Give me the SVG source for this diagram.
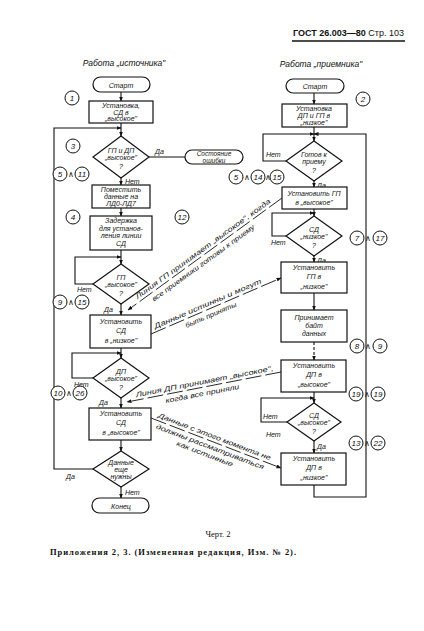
<svg xmlns="http://www.w3.org/2000/svg" width="424" height="631" viewBox="0 0 424 631">
<style>
.bg{fill:#fff}
.n{fill:#fff;stroke:#111;stroke-width:1.2}
.c{fill:none;stroke:#111;stroke-width:1.1}
.d{fill:none;stroke:#111;stroke-width:0.9;stroke-dasharray:16 4}
.t{font-family:"Liberation Sans",Arial,sans-serif;font-style:italic;font-size:7px;fill:#111;text-anchor:middle}
.l{font-family:"Liberation Sans",Arial,sans-serif;font-style:italic;font-size:7px;fill:#111}
.k{fill:#fff;stroke:#111;stroke-width:1}
.kt{font-family:"Liberation Sans",Arial,sans-serif;font-style:italic;font-size:8px;fill:#111;text-anchor:middle}
.and{font-family:"DejaVu Sans",sans-serif;font-size:8px;fill:#111;text-anchor:middle}
</style>
<defs>
<marker id="a" viewBox="0 0 10 10" refX="9" refY="5" markerWidth="5" markerHeight="5" orient="auto" markerUnits="userSpaceOnUse"><path d="M0,1 L10,5 L0,9 z" fill="#111"/></marker>
</defs>
<rect class="bg" x="0" y="0" width="424" height="631"/>

<g id="header">
<text x="404" y="36" font-family="Liberation Sans,Arial,sans-serif" font-size="9" fill="#111" text-anchor="end"><tspan font-weight="bold">ГОСТ 26.003—80</tspan> Стр. 103</text>
<line x1="292" y1="41" x2="405" y2="41" stroke="#111" stroke-width="1.4"/>
<text class="t" x="124" y="66" style="font-size:8.5px">Работа „источника"</text>
<text class="t" x="321" y="67" style="font-size:8.5px">Работа „приемника"</text>
</g>

<g id="connectors">
<path class="c" d="M121,92 V101" marker-end="url(#a)"/>
<path class="c" d="M121,123 V136" marker-end="url(#a)"/>
<path class="c" d="M93,469 H54 V128 H121" marker-end="url(#a)"/>
<path class="c" d="M149,157 H185"/>
<path class="c" d="M121,178 V185" marker-end="url(#a)"/>
<path class="c" d="M121,208 V216" marker-end="url(#a)"/>
<path class="c" d="M121,250 V264" marker-end="url(#a)"/>
<path class="c" d="M93,284 H75 V257 H121" marker-end="url(#a)"/>
<path class="c" d="M121,304 V315" marker-end="url(#a)"/>
<path class="c" d="M121,348 V358" marker-end="url(#a)"/>
<path class="c" d="M93,378 H72 V353 H121" marker-end="url(#a)"/>
<path class="c" d="M121,398 V408" marker-end="url(#a)"/>
<path class="c" d="M121,440 V451" marker-end="url(#a)"/>
<path class="c" d="M121,487 V498" marker-end="url(#a)"/>

<path class="c" d="M314,93 V104" marker-end="url(#a)"/>
<path class="c" d="M314,127 V141" marker-end="url(#a)"/>
<path class="c" d="M286,161 H263 V134 H314" marker-end="url(#a)"/>
<path class="c" d="M314,485 V497 H366 V134 H314" marker-end="url(#a)"/>
<path class="c" d="M314,181 V187" marker-end="url(#a)"/>
<path class="c" d="M314,209 V216" marker-end="url(#a)"/>
<path class="c" d="M286,236 H272 V213 H314" marker-end="url(#a)"/>
<path class="c" d="M314,256 V262" marker-end="url(#a)"/>
<path class="c" d="M314,293 V310" marker-end="url(#a)"/>
<path class="c" d="M314,342 V360" stroke-dasharray="3 2" marker-end="url(#a)"/>
<path class="c" d="M314,392 V403" marker-end="url(#a)"/>
<path class="c" d="M287,422 H261 V398 H314" marker-end="url(#a)"/>
<path class="c" d="M314,441 V453" marker-end="url(#a)"/>

<path class="d" d="M282,198 L128,310" marker-end="url(#a)"/>
<path class="d" d="M151,334 L281,278" marker-end="url(#a)"/>
<path class="d" d="M281,372 L127,402" marker-end="url(#a)"/>
<path class="d" d="M151,418 L281,468" marker-end="url(#a)"/>

<text class="l" x="155" y="154">Да</text>
<text class="l" x="125" y="184">Нет</text>
<text class="l" x="77" y="292">Нет</text>
<text class="l" x="104" y="312">Да</text>
<text class="l" x="74" y="387">Нет</text>
<text class="l" x="99" y="405">Да</text>
<text class="l" x="66" y="479">Да</text>
<text class="l" x="125" y="495">Нет</text>

<text class="l" x="266" y="157">Нет</text>
<text class="l" x="317" y="188">Да</text>
<text class="l" x="271" y="245">Нет</text>
<text class="l" x="317" y="263">Да</text>
<text class="l" x="263" y="419">Нет</text>
<text class="l" x="266" y="437">Нет</text>
<text class="l" x="317" y="449">Да</text>
</g>

<g id="notes">
<g transform="translate(128,310) rotate(-36)">
<text class="l" x="14" y="-3" textLength="165" lengthAdjust="spacingAndGlyphs">Линия ГП принимает „высокое", когда</text>
<text class="l" x="26" y="8.5" textLength="125" lengthAdjust="spacingAndGlyphs">все приемники готовы к приему</text>
</g>
<g transform="translate(151,334) rotate(-23.3)">
<text class="l" x="6" y="-3" textLength="116" lengthAdjust="spacingAndGlyphs">Данные истинны и могут</text>
<text class="l" x="35" y="8.5" textLength="55" lengthAdjust="spacingAndGlyphs">быть приняты</text>
</g>
<g transform="translate(127,402) rotate(-11)">
<text class="l" x="10" y="-3" textLength="140" lengthAdjust="spacingAndGlyphs">Линия ДП принимает „высокое",</text>
<text class="l" x="38" y="8.5" textLength="75" lengthAdjust="spacingAndGlyphs">когда все приняли</text>
</g>
<g transform="translate(151,418) rotate(21)">
<text class="l" x="6" y="-3" textLength="120" lengthAdjust="spacingAndGlyphs">Данные с этого момента не</text>
<text class="l" x="8" y="8" textLength="115" lengthAdjust="spacingAndGlyphs">должны рассматриваться</text>
<text class="l" x="33" y="16.5" textLength="60" lengthAdjust="spacingAndGlyphs">как истинные</text>
</g>
</g>

<g id="L-start"><rect class="n" x="93" y="77" width="57" height="15" rx="7.5"/><text class="t" x="121" y="87.5">Старт</text></g>
<g id="L-set-sd-high"><rect class="n" x="89" y="101" width="64" height="22"/><text class="t" x="121" y="107.5">Установка,</text><text class="t" x="121" y="114.5">СД в</text><text class="t" x="121" y="121">„высокое"</text></g>
<g id="L-check-gp-dp"><path class="n" d="M121,136 L149,157 L121,178 L93,157 Z"/><text class="t" x="121" y="153">ГП и ДП</text><text class="t" x="121" y="160">„высокое"</text><text class="t" x="121" y="169">?</text></g>
<g id="L-error"><rect class="n" x="185" y="150" width="58" height="14" rx="7"/><text class="t" x="214" y="156" style="font-size:6.5px">Состояние</text><text class="t" x="214" y="162.5" style="font-size:6.5px">ошибки</text></g>
<g id="L-put-data"><rect class="n" x="92" y="185" width="58" height="23"/><text class="t" x="121" y="191.5">Поместить</text><text class="t" x="121" y="198.5">данные на</text><text class="t" x="121" y="205.5">ЛД0-ЛД7</text></g>
<g id="L-delay"><rect class="n" x="90" y="216" width="62" height="34"/><text class="t" x="121" y="223">Задержка</text><text class="t" x="121" y="230.5">для установ-</text><text class="t" x="121" y="238">ления линии</text><text class="t" x="121" y="246">СД</text></g>
<g id="L-check-gp"><path class="n" d="M121,264 L149,284 L121,304 L93,284 Z"/><text class="t" x="121" y="280">ГП</text><text class="t" x="121" y="287">„высокое"</text><text class="t" x="121" y="296">?</text></g>
<g id="L-set-sd-low"><rect class="n" x="90" y="315" width="61" height="33"/><text class="t" x="121" y="324">Установить</text><text class="t" x="121" y="333">СД</text><text class="t" x="121" y="343">в „низкое"</text></g>
<g id="L-check-dp"><path class="n" d="M121,358 L149,378 L121,398 L93,378 Z"/><text class="t" x="121" y="374">ДП</text><text class="t" x="121" y="381">„высокое"</text><text class="t" x="121" y="390">?</text></g>
<g id="L-set-sd-high2"><rect class="n" x="89" y="408" width="62" height="32"/><text class="t" x="121" y="416">Установить</text><text class="t" x="121" y="425">СД</text><text class="t" x="121" y="435">в „высокое"</text></g>
<g id="L-more-data"><path class="n" d="M121,451 L149,469 L121,487 L93,469 Z"/><text class="t" x="121" y="465">Данные</text><text class="t" x="121" y="472">еще</text><text class="t" x="121" y="479">нужны</text></g>
<g id="L-end"><rect class="n" x="92" y="498" width="57" height="15" rx="7.5"/><text class="t" x="121" y="508.5">Конец</text></g>

<g id="R-start"><rect class="n" x="286" y="79" width="58" height="14" rx="7"/><text class="t" x="315" y="89">Старт</text></g>
<g id="R-init"><rect class="n" x="282" y="104" width="65" height="23"/><text class="t" x="314" y="110.5">Установка</text><text class="t" x="314" y="117.5">ДП и ГП в</text><text class="t" x="314" y="124.5">„низкое"</text></g>
<g id="R-ready"><path class="n" d="M314,141 L342,161 L314,181 L286,161 Z"/><text class="t" x="314" y="157">Готов к</text><text class="t" x="314" y="164">приему</text><text class="t" x="314" y="173">?</text></g>
<g id="R-set-gp-high"><rect class="n" x="282" y="187" width="65" height="22"/><text class="t" x="314" y="196">Установить ГП</text><text class="t" x="314" y="205">в „высокое"</text></g>
<g id="R-check-sd-low"><path class="n" d="M314,216 L342,236 L314,256 L286,236 Z"/><text class="t" x="314" y="232">СД</text><text class="t" x="314" y="239">„низкое"</text><text class="t" x="314" y="248">?</text></g>
<g id="R-set-gp-low"><rect class="n" x="281" y="262" width="66" height="31"/><text class="t" x="314" y="270">Установить</text><text class="t" x="314" y="279">ГП в</text><text class="t" x="314" y="289">„низкое"</text></g>
<g id="R-accept"><rect class="n" x="281" y="310" width="66" height="32"/><text class="t" x="314" y="320">Принимает</text><text class="t" x="314" y="328">байт</text><text class="t" x="314" y="336">данных</text></g>
<g id="R-set-dp-high"><rect class="n" x="281" y="360" width="65" height="32"/><text class="t" x="314" y="368">Установить</text><text class="t" x="314" y="377">ДП в</text><text class="t" x="314" y="387">„высокое"</text></g>
<g id="R-check-sd-high"><path class="n" d="M314,403 L341,422 L314,441 L287,422 Z"/><text class="t" x="314" y="418">СД</text><text class="t" x="314" y="425">„высокое"</text><text class="t" x="314" y="434">?</text></g>
<g id="R-set-dp-low"><rect class="n" x="281" y="453" width="65" height="32"/><text class="t" x="314" y="461">Установить</text><text class="t" x="314" y="470">ДП в</text><text class="t" x="314" y="480">„низкое"</text></g>

<g id="marks">
<circle class="k" cx="72" cy="98" r="7"/><text class="kt" x="72" y="101">1</text>
<circle class="k" cx="363" cy="99" r="7"/><text class="kt" x="363" y="102">2</text>
<circle class="k" cx="73" cy="146" r="7"/><text class="kt" x="73" y="149">3</text>
<circle class="k" cx="60" cy="174" r="7"/><text class="kt" x="60" y="177">5</text><text class="and" x="71" y="177">∧</text><circle class="k" cx="82" cy="174" r="7"/><text class="kt" x="82" y="177">11</text>
<circle class="k" cx="73" cy="217" r="7"/><text class="kt" x="73" y="220">4</text>
<circle class="k" cx="182" cy="217" r="7"/><text class="kt" x="182" y="220">12</text>
<circle class="k" cx="60" cy="302" r="7"/><text class="kt" x="60" y="305">9</text><text class="and" x="71" y="305">∧</text><circle class="k" cx="82" cy="302" r="7"/><text class="kt" x="82" y="305">15</text>
<circle class="k" cx="58" cy="393" r="7"/><text class="kt" x="58" y="396">10</text><text class="and" x="69" y="396">∧</text><circle class="k" cx="80" cy="393" r="7"/><text class="kt" x="80" y="396">26</text>
<circle class="k" cx="236" cy="177" r="7"/><text class="kt" x="236" y="180">5</text><text class="and" x="247" y="180">∧</text><circle class="k" cx="258" cy="177" r="7"/><text class="kt" x="258" y="180">14</text><text class="and" x="268" y="180">∧</text><circle class="k" cx="277" cy="177" r="7"/><text class="kt" x="277" y="180">15</text>
<circle class="k" cx="357" cy="238" r="7"/><text class="kt" x="357" y="241">7</text><text class="and" x="368" y="241">∧</text><circle class="k" cx="380" cy="238" r="7"/><text class="kt" x="380" y="241">17</text>
<circle class="k" cx="357" cy="346" r="7"/><text class="kt" x="357" y="349">8</text><text class="and" x="368" y="349">∧</text><circle class="k" cx="380" cy="346" r="7"/><text class="kt" x="380" y="349">9</text>
<circle class="k" cx="356" cy="394" r="7"/><text class="kt" x="356" y="397">19</text><text class="and" x="367" y="397">∧</text><circle class="k" cx="378" cy="394" r="7"/><text class="kt" x="378" y="397">19</text>
<circle class="k" cx="356" cy="443" r="7"/><text class="kt" x="356" y="446">13</text><text class="and" x="367" y="446">∧</text><circle class="k" cx="378" cy="443" r="7"/><text class="kt" x="378" y="446">22</text>
</g>

<g id="footer">
<text x="218" y="537" font-family="Liberation Serif,Times New Roman,serif" font-size="8.5" fill="#111" text-anchor="middle">Черт. 2</text>
<text x="50" y="555" font-family="Liberation Serif,Times New Roman,serif" font-size="8.5" font-weight="bold" fill="#111" textLength="246" lengthAdjust="spacing">Приложения 2, 3. (Измененная редакция, Изм. № 2).</text>
</g>
</svg>
